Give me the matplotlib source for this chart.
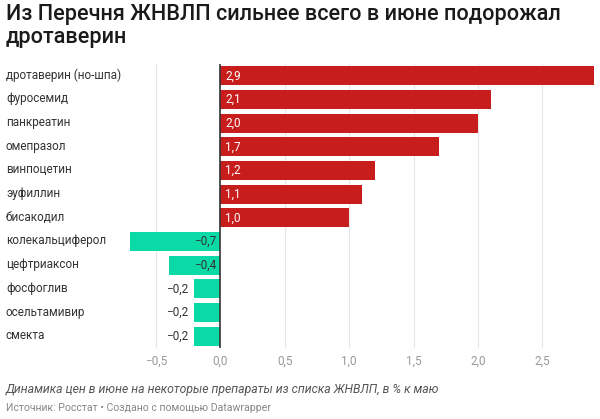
import matplotlib
matplotlib.use("Agg")
import matplotlib.pyplot as plt
import numpy as np

categories = ["дротаверин (но-шпа)", "фуросемид", "панкреатин", "омепразол", "винпоцетин",
              "эуфиллин", "бисакодил", "колекальциферол", "цефтриаксон", "фосфоглив",
              "осельтамивир", "смекта"]
values = [2.9, 2.1, 2.0, 1.7, 1.2, 1.1, 1.0, -0.7, -0.4, -0.2, -0.2, -0.2]
xticks = [-0.5, 0.0, 0.5, 1.0, 1.5, 2.0, 2.5]

RED = "#c71e1d"
GREEN = "#0bd9a6"
FONT = "Roboto"

def fmt(v):
    s = f"{abs(v):.1f}".replace(".", ",")
    return ("−" + s) if v < 0 else s

W, H = 600, 419
fig = plt.figure(figsize=(W / 100, H / 100), dpi=100)
ax = fig.add_axes([130 / W, 1 - 348 / H, (594 - 130) / W, (348 - 64) / H])

y = np.arange(len(categories))
colors = [RED if v > 0 else GREEN for v in values]
ax.barh(y, values, height=0.8, color=colors, zorder=2)
ax.set_ylim(len(categories) - 0.5, -0.5)
ax.set_xlim(-0.7, 2.9)

for xt in xticks:
    if xt != 0:
        ax.axvline(xt, color="#e6e6e6", lw=0.8, zorder=0)
ax.axvline(0, color="#333333", lw=1.2, zorder=3)

for i, v in enumerate(values):
    if v > 0:
        ax.text(0.04, i, fmt(v), color="white", ha="left", va="center",
                fontsize=8.5, family=FONT, zorder=4)
    elif v <= -0.3:
        ax.text(-0.03, i, fmt(v), color="#333333", ha="right", va="center",
                fontsize=8.5, family=FONT, zorder=4)
    else:
        ax.text(v - 0.05, i, fmt(v), color="#333333", ha="right", va="center",
                fontsize=8.5, family=FONT, zorder=4)

for i, c in enumerate(categories):
    fig.text(6 / W, 1 - (75 + i * 23.7) / H, c, ha="left", va="center",
             fontsize=8.5, family=FONT, color="#333333")

ax.set_yticks([])
ax.set_xticks(xticks)
ax.set_xticklabels([fmt(t) for t in xticks], family=FONT, fontsize=8.5, color="#999999")
ax.tick_params(axis="x", length=0, pad=5)
for s in ax.spines.values():
    s.set_visible(False)

fig.text(6 / W, 1 - 4 / H, "Из Перечня ЖНВЛП сильнее всего в июне подорожал\nдротаверин",
         ha="left", va="top", fontsize=15.6, family=FONT, weight="medium",
         color="#1a1a1a", linespacing=1.15)
fig.text(6 / W, 1 - 389 / H, "Динамика цен в июне на некоторые препараты из списка ЖНВЛП, в % к маю",
         ha="left", va="center", fontsize=8.8, family=FONT, style="italic", color="#555555")
fig.text(6 / W, 1 - 408 / H, "Источник: Росстат • Создано с помощью Datawrapper",
         ha="left", va="center", fontsize=7.6, family=FONT, color="#888888")

fig.savefig("out.png", dpi=100, facecolor="white")
